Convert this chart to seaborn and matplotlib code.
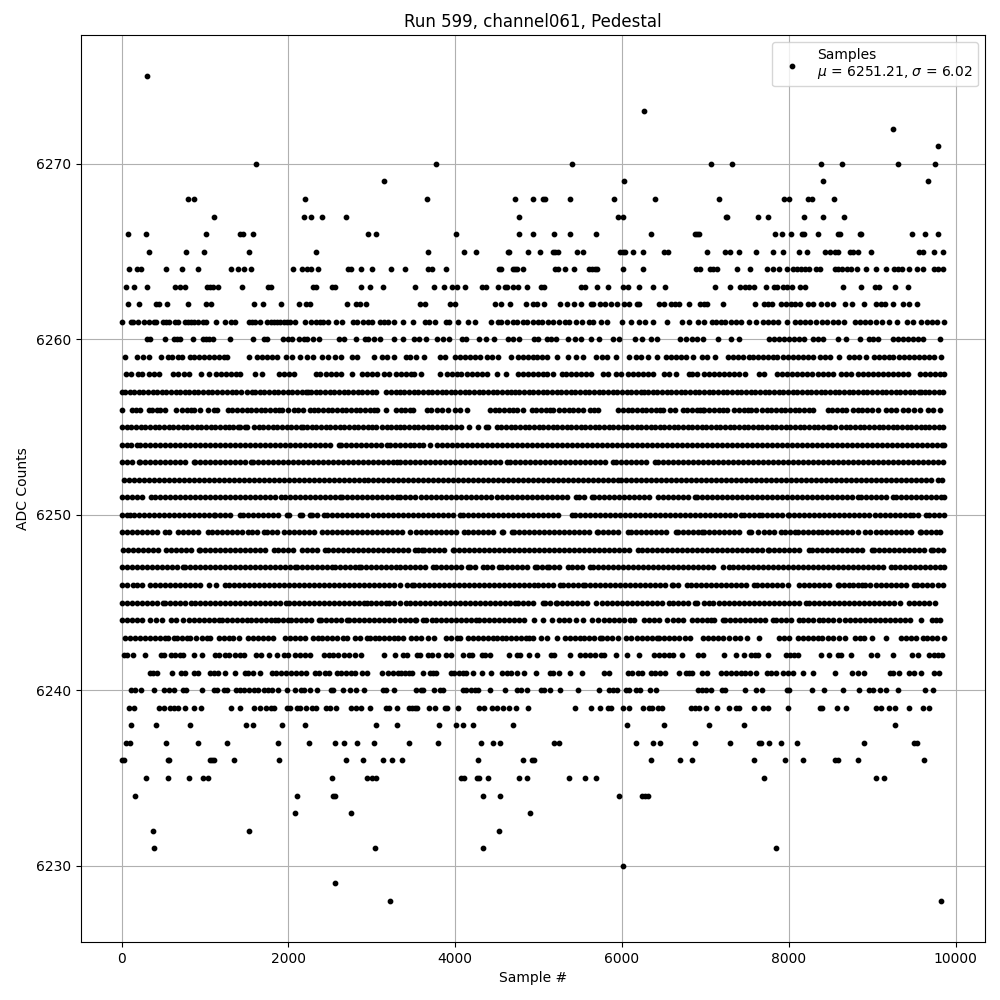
import pandas as pd
import matplotlib
matplotlib.use("Agg")
import matplotlib.pyplot as plt
import seaborn as sns

# Sample numbers, one list per ADC level
s6228 = [3216, 9824]
s6229 = [2556]
s6230 = [6016]
s6231 = [384, 3036, 4336, 7844]
s6232 = [372, 1524, 4528]
s6233 = [2076, 2748, 4900]
s6234 = [156, 2100, 2532, 2556, 4336, 4540, 5968, 6244, 6280, 6316]
s6235 = [288, 552, 804, 972, 1032, 2520, 2940, 3000, 3048, 4072, 4108, 4264, 4288, 4396, 4768, 4864, 5368, 5560, 5692,
         7700, 9044, 9140]
s6236 = [0, 24, 552, 564, 1056, 1080, 1104, 1344, 1884, 2688, 2892, 3132, 3240, 3364, 4276, 4816, 4924, 4948, 6352,
         6700, 6844, 7580, 7952, 8168, 8552, 8588, 8828, 9620]
s6237 = [48, 96, 528, 912, 1260, 1872, 2244, 2556, 2664, 2820, 3024, 3448, 3796, 4312, 4456, 4540, 5188, 5248, 6172,
         6376, 6460, 6880, 7292, 7640, 7664, 7760, 7904, 8096, 8900, 9500, 9536]
s6238 = [108, 408, 816, 1488, 1572, 1920, 2196, 3048, 3300, 3808, 4012, 4096, 4216, 4696, 6064, 6508, 7040, 7460, 9272]
s6239 = [84, 144, 444, 504, 576, 624, 672, 756, 864, 948, 1308, 1416, 1584, 1656, 1728, 1788, 1824, 1980, 2016, 2100,
         2136, 2208, 2280, 2328, 2448, 2496, 2568, 2748, 2808, 2868, 2976, 3168, 3204, 3300, 3448, 3484, 3520, 3544,
         3688, 3760, 3880, 3904, 4036, 4288, 4348, 4444, 4504, 4576, 4648, 4732, 4876, 5440, 5632, 5740, 5836, 5872,
         6016, 6088, 6256, 6328, 6364, 6436, 6484, 6824, 6872, 6920, 7004, 7136, 7280, 7364, 7400, 7580, 7688, 7748,
         7988, 8372, 8396, 8576, 8684, 9044, 9104, 9200, 9272, 9440, 9608, 9680]
s6240 = [108, 156, 228, 384, 504, 564, 624, 732, 768, 960, 1104, 1140, 1224, 1260, 1368, 1416, 1464, 1524, 1584, 1632,
         1704, 1752, 1800, 1872, 1980, 2076, 2148, 2184, 2256, 2340, 2508, 2532, 2652, 2736, 2808, 2904, 3132, 3168,
         3264, 3532, 3592, 3616, 3748, 3820, 3856, 4096, 4132, 4192, 4240, 4276, 4420, 4600, 4744, 4792, 4864, 5032,
         5068, 5140, 5260, 5476, 5728, 5848, 5896, 5944, 6052, 6088, 6172, 6220, 6340, 6412, 6916, 6956, 7004, 7064,
         7196, 7232, 7472, 7604, 7676, 7976, 8000, 8276, 8420, 8648, 8840, 8960, 9008, 9092, 9164, 9308, 9632, 9728]
s6241 = [336, 372, 420, 600, 708, 756, 864, 912, 1056, 1104, 1152, 1236, 1356, 1476, 1512, 1572, 1656, 1800, 1848,
         1908, 1968, 2028, 2088, 2148, 2208, 2316, 2364, 2436, 2484, 2580, 2628, 2688, 2748, 2796, 2880, 2940, 3120,
         3192, 3252, 3312, 3352, 3400, 3448, 3484, 3616, 3700, 3736, 3772, 3952, 3988, 4048, 4096, 4132, 4216, 4324,
         4432, 4564, 4624, 4672, 4744, 4828, 4972, 5140, 5176, 5248, 5380, 5524, 5788, 5848, 6076, 6124, 6196, 6244,
         6352, 6400, 6460, 6520, 6688, 6772, 6808, 6844, 6956, 7016, 7184, 7244, 7304, 7364, 7424, 7472, 7532, 7604,
         7736, 7784, 7844, 7928, 7988, 8048, 8168, 8288, 8552, 8756, 8828, 8900, 9212, 9248, 9320, 9440, 9500, 9584,
         9740, 9800]
s6242 = [24, 60, 132, 276, 468, 504, 588, 636, 696, 732, 864, 960, 1116, 1164, 1236, 1284, 1356, 1416, 1464, 1608,
         1668, 1764, 1860, 1944, 1992, 2076, 2136, 2196, 2256, 2424, 2484, 2532, 2592, 2664, 2724, 2796, 2868, 3144,
         3276, 3376, 3424, 3544, 3580, 3676, 3724, 3796, 3892, 3952, 4096, 4168, 4204, 4324, 4360, 4420, 4648, 4744,
         4780, 4888, 4984, 5152, 5188, 5380, 5500, 5560, 5620, 5680, 5752, 5788, 5932, 6064, 6208, 6388, 6448, 6508,
         6568, 6616, 6724, 6916, 6968, 7220, 7364, 7460, 7544, 7592, 7628, 7748, 7964, 8012, 8060, 8108, 8384, 8480,
         8588, 8624, 8744, 8984, 9056, 9248, 9476, 9548, 9680, 9740, 9788, 9836]
s6243 = [44, 104, 164, 224, 284, 344, 396, 456, 524, 552, 624, 664, 724, 784, 824, 896, 964, 1020, 1064, 1164, 1224,
         1284, 1332, 1404, 1512, 1572, 1632, 1692, 1752, 1816, 1964, 2024, 2084, 2144, 2204, 2292, 2352, 2404, 2464,
         2524, 2584, 2652, 2704, 2804, 2864, 2944, 2984, 3044, 3084, 3144, 3204, 3264, 3312, 3376, 3472, 3532, 3592,
         3676, 3748, 3888, 3948, 4016, 4056, 4156, 4216, 4276, 4336, 4396, 4456, 4496, 4556, 4604, 4664, 4724, 4784,
         4844, 4888, 4936, 5024, 5104, 5224, 5316, 5376, 5436, 5496, 5548, 5608, 5668, 5736, 5764, 5824, 5884, 5956,
         6048, 6108, 6176, 6244, 6304, 6364, 6416, 6448, 6508, 6568, 6628, 6688, 6756, 6816, 6968, 7028, 7088, 7148,
         7208, 7288, 7352, 7412, 7496, 7640, 7880, 7948, 8008, 8108, 8168, 8228, 8288, 8348, 8400, 8468, 8528, 8608,
         8680, 8796, 8856, 8908, 9000, 9160, 9340, 9400, 9460, 9520, 9608, 9656, 9716, 9776, 9860]
s6244 = [0, 60, 120, 180, 240, 344, 416, 484, 592, 652, 732, 804, 864, 924, 984, 1044, 1104, 1164, 1204, 1264, 1324,
         1384, 1444, 1504, 1552, 1612, 1672, 1732, 1792, 1844, 1872, 1932, 1992, 2036, 2096, 2156, 2216, 2276, 2364,
         2396, 2456, 2516, 2576, 2636, 2704, 2724, 2784, 2844, 2904, 2964, 3024, 3084, 3144, 3204, 3264, 3344, 3396,
         3456, 3516, 3536, 3616, 3648, 3716, 3768, 3828, 3888, 3948, 4008, 4068, 4128, 4188, 4248, 4288, 4348, 4408,
         4468, 4528, 4588, 4648, 4708, 4768, 4824, 4948, 5056, 5164, 5248, 5308, 5368, 5448, 5528, 5636, 5716, 5788,
         5848, 5908, 5968, 6028, 6096, 6148, 6268, 6328, 6388, 6448, 6536, 6616, 6676, 6736, 6840, 6904, 6956, 7016,
         7068, 7108, 7208, 7240, 7300, 7360, 7420, 7480, 7540, 7600, 7660, 7720, 7808, 7848, 7908, 7968, 8028, 8128,
         8168, 8228, 8288, 8368, 8408, 8468, 8528, 8600, 8676, 8736, 8796, 8856, 8916, 8976, 9036, 9096, 9156, 9216,
         9276, 9336, 9396, 9448, 9588, 9716, 9760, 9808]
s6245 = [0, 60, 120, 180, 240, 300, 360, 420, 492, 516, 576, 636, 696, 756, 836, 876, 936, 996, 1056, 1116, 1176, 1236,
         1296, 1356, 1416, 1476, 1536, 1596, 1656, 1716, 1776, 1836, 1896, 1972, 2004, 2064, 2124, 2184, 2244, 2304,
         2364, 2424, 2484, 2544, 2604, 2664, 2724, 2784, 2844, 2904, 2944, 2992, 3052, 3112, 3172, 3204, 3264, 3344,
         3416, 3456, 3516, 3576, 3636, 3696, 3756, 3816, 3876, 3936, 3996, 4056, 4116, 4176, 4236, 4296, 4356, 4416,
         4476, 4536, 4596, 4656, 4716, 4756, 4816, 4876, 4936, 5048, 5076, 5136, 5204, 5224, 5284, 5344, 5404, 5464,
         5524, 5584, 5684, 5756, 5816, 5876, 5936, 5996, 6056, 6116, 6176, 6236, 6296, 6356, 6416, 6476, 6568, 6616,
         6676, 6736, 6796, 6876, 6904, 6980, 7040, 7088, 7160, 7220, 7280, 7340, 7400, 7460, 7520, 7580, 7640, 7700,
         7760, 7820, 7880, 7940, 8008, 8060, 8120, 8208, 8240, 8300, 8360, 8420, 8480, 8540, 8600, 8660, 8720, 8780,
         8840, 8900, 8960, 9020, 9080, 9140, 9200, 9260, 9336, 9440, 9500, 9560, 9616, 9680, 9752]
s6246 = [0, 60, 136, 184, 244, 344, 404, 464, 524, 584, 644, 704, 764, 824, 884, 944, 1044, 1132, 1236, 1284, 1344,
         1404, 1464, 1524, 1584, 1644, 1704, 1764, 1824, 1884, 1944, 2004, 2064, 2124, 2184, 2244, 2304, 2364, 2424,
         2484, 2544, 2604, 2664, 2724, 2784, 2844, 2904, 2964, 3024, 3084, 3144, 3204, 3264, 3344, 3420, 3488, 3508,
         3568, 3628, 3688, 3748, 3808, 3868, 3928, 3988, 4048, 4108, 4168, 4228, 4288, 4348, 4408, 4468, 4528, 4588,
         4648, 4708, 4768, 4828, 4888, 4948, 4996, 5056, 5116, 5176, 5256, 5296, 5356, 5416, 5476, 5528, 5556, 5616,
         5676, 5736, 5796, 5856, 5916, 5976, 6036, 6096, 6156, 6216, 6276, 6336, 6396, 6456, 6516, 6596, 6616, 6676,
         6776, 6828, 6888, 6948, 7008, 7068, 7128, 7188, 7248, 7308, 7368, 7428, 7488, 7588, 7620, 7680, 7740, 7800,
         7860, 7920, 7996, 8128, 8188, 8248, 8308, 8368, 8428, 8488, 8588, 8608, 8668, 8720, 8768, 8828, 8880, 8920,
         8980, 9040, 9100, 9160, 9220, 9280, 9340, 9400, 9496, 9536, 9596, 9656, 9716, 9788, 9848]
s6247 = [0, 60, 120, 180, 240, 300, 360, 420, 480, 540, 600, 660, 736, 756, 816, 876, 936, 996, 1056, 1116, 1176, 1236,
         1296, 1356, 1416, 1476, 1536, 1596, 1656, 1716, 1776, 1836, 1896, 1956, 2016, 2076, 2104, 2164, 2224, 2284,
         2344, 2404, 2464, 2524, 2556, 2616, 2676, 2736, 2796, 2844, 2876, 2936, 2996, 3056, 3116, 3176, 3236, 3296,
         3344, 3400, 3460, 3520, 3580, 3640, 3736, 3764, 3824, 3884, 3944, 4004, 4064, 4156, 4176, 4236, 4336, 4376,
         4436, 4524, 4556, 4616, 4676, 4736, 4796, 4856, 4956, 4976, 5036, 5096, 5128, 5188, 5248, 5348, 5404, 5464,
         5524, 5616, 5648, 5708, 5768, 5828, 5888, 5948, 6008, 6068, 6136, 6196, 6256, 6316, 6376, 6436, 6496, 6556,
         6616, 6676, 6736, 6796, 6856, 6916, 6976, 7036, 7096, 7208, 7280, 7328, 7388, 7448, 7508, 7568, 7628, 7688,
         7748, 7808, 7868, 7928, 7988, 8048, 8108, 8168, 8228, 8288, 8348, 8408, 8468, 8528, 8588, 8648, 8708, 8768,
         8828, 8888, 8948, 9008, 9068, 9128, 9228, 9268, 9328, 9388, 9448, 9508, 9568, 9628, 9688, 9748, 9808, 9860]
s6248 = [12, 72, 132, 192, 252, 312, 372, 432, 532, 592, 652, 712, 772, 832, 924, 944, 1004, 1064, 1124, 1184, 1244,
         1304, 1364, 1424, 1484, 1544, 1604, 1664, 1724, 1824, 1872, 1932, 1992, 2052, 2164, 2224, 2284, 2344, 2444,
         2476, 2536, 2596, 2656, 2716, 2776, 2836, 2896, 2956, 3016, 3076, 3136, 3196, 3256, 3316, 3376, 3436, 3516,
         3556, 3596, 3624, 3684, 3744, 3804, 3864, 3968, 3988, 4048, 4108, 4168, 4228, 4288, 4348, 4408, 4468, 4528,
         4588, 4648, 4708, 4768, 4828, 4888, 4948, 5008, 5068, 5128, 5188, 5248, 5308, 5368, 5428, 5488, 5548, 5608,
         5668, 5728, 5788, 5848, 5908, 5968, 6028, 6088, 6196, 6236, 6296, 6356, 6416, 6476, 6536, 6596, 6656, 6716,
         6776, 6836, 6896, 6956, 7016, 7076, 7136, 7196, 7256, 7316, 7376, 7436, 7496, 7556, 7616, 7676, 7748, 7768,
         7828, 7888, 7948, 8008, 8068, 8128, 8240, 8276, 8336, 8396, 8456, 8516, 8576, 8636, 8696, 8756, 8816, 8876,
         8996, 9020, 9080, 9140, 9200, 9260, 9320, 9380, 9440, 9500, 9560, 9620, 9708, 9728, 9788, 9848]
s6249 = [0, 60, 120, 180, 240, 300, 360, 420, 524, 564, 672, 732, 792, 852, 912, 1032, 1084, 1144, 1204, 1264, 1324,
         1384, 1444, 1512, 1564, 1624, 1712, 1744, 1804, 1864, 1952, 2004, 2064, 2124, 2184, 2244, 2304, 2404, 2464,
         2524, 2584, 2644, 2704, 2764, 2824, 2884, 2944, 3004, 3064, 3124, 3184, 3244, 3304, 3364, 3456, 3528, 3584,
         3644, 3704, 3764, 3824, 3884, 3944, 4004, 4104, 4148, 4208, 4268, 4328, 4388, 4448, 4556, 4576, 4676, 4708,
         4768, 4828, 4888, 4948, 5008, 5068, 5128, 5188, 5248, 5308, 5368, 5428, 5488, 5548, 5608, 5696, 5716, 5776,
         5836, 5896, 5956, 6076, 6104, 6164, 6224, 6284, 6344, 6404, 6464, 6524, 6648, 6676, 6736, 6796, 6856, 6916,
         6960, 6980, 7040, 7100, 7160, 7220, 7280, 7340, 7400, 7528, 7552, 7636, 7708, 7768, 7828, 7912, 7956, 8016,
         8080, 8108, 8168, 8228, 8296, 8348, 8400, 8460, 8520, 8580, 8640, 8700, 8760, 8828, 8920, 8980, 9040, 9100,
         9160, 9220, 9280, 9340, 9400, 9460, 9568, 9588, 9648, 9708, 9768, 9816]
s6250 = [0, 60, 104, 144, 204, 264, 324, 384, 444, 504, 564, 624, 684, 744, 804, 864, 924, 984, 1044, 1104, 1124, 1184,
         1244, 1304, 1424, 1456, 1516, 1576, 1636, 1696, 1756, 1816, 1876, 1984, 2012, 2144, 2168, 2256, 2284, 2344,
         2432, 2464, 2524, 2584, 2644, 2704, 2764, 2824, 2884, 2944, 3016, 3076, 3136, 3196, 3256, 3316, 3376, 3436,
         3496, 3556, 3616, 3676, 3736, 3796, 3856, 3916, 3976, 4056, 4096, 4156, 4216, 4276, 4336, 4396, 4456, 4516,
         4576, 4636, 4696, 4756, 4816, 4876, 4936, 4996, 5056, 5116, 5176, 5236, 5396, 5436, 5496, 5556, 5616, 5676,
         5736, 5796, 5856, 5916, 5976, 6036, 6096, 6156, 6216, 6276, 6336, 6396, 6456, 6516, 6576, 6636, 6696, 6756,
         6816, 6876, 6936, 6996, 7056, 7116, 7176, 7236, 7296, 7356, 7428, 7460, 7520, 7580, 7640, 7676, 7736, 7796,
         7856, 7916, 7988, 8008, 8068, 8128, 8188, 8248, 8308, 8368, 8428, 8488, 8548, 8608, 8668, 8728, 8788, 8848,
         8908, 8968, 9028, 9088, 9148, 9208, 9268, 9328, 9388, 9448, 9488, 9548, 9648, 9680, 9740, 9800, 9860]
s6251 = [0, 60, 120, 180, 240, 352, 404, 464, 524, 584, 644, 704, 764, 824, 884, 944, 1004, 1064, 1124, 1184, 1244,
         1304, 1364, 1424, 1484, 1544, 1604, 1664, 1724, 1784, 1844, 1916, 1964, 2024, 2084, 2144, 2204, 2264, 2324,
         2384, 2444, 2504, 2564, 2616, 2644, 2704, 2764, 2824, 2884, 2944, 3004, 3064, 3124, 3184, 3244, 3304, 3344,
         3404, 3464, 3524, 3584, 3644, 3704, 3764, 3824, 3884, 3944, 4004, 4064, 4124, 4184, 4244, 4304, 4364, 4424,
         4496, 4560, 4620, 4680, 4736, 4796, 4856, 4916, 4976, 5036, 5096, 5156, 5216, 5276, 5336, 5448, 5484, 5544,
         5636, 5668, 5728, 5788, 5848, 5908, 5968, 6028, 6088, 6148, 6208, 6268, 6328, 6436, 6488, 6548, 6608, 6668,
         6728, 6788, 6876, 6896, 6956, 7016, 7076, 7136, 7196, 7256, 7316, 7376, 7436, 7496, 7556, 7616, 7676, 7736,
         7796, 7856, 7916, 7976, 8036, 8096, 8156, 8216, 8276, 8336, 8396, 8456, 8516, 8576, 8636, 8696, 8756, 8828,
         8868, 8928, 8988, 9048, 9108, 9168, 9248, 9280, 9340, 9400, 9460, 9520, 9580, 9640, 9700, 9760, 9820, 9860]
s6252 = [32, 92, 152, 212, 272, 332, 392, 452, 512, 572, 632, 692, 752, 812, 872, 932, 992, 1052, 1112, 1172, 1232,
         1292, 1352, 1412, 1472, 1532, 1592, 1652, 1712, 1772, 1832, 1892, 1952, 2012, 2072, 2132, 2192, 2252, 2312,
         2372, 2432, 2492, 2552, 2612, 2672, 2732, 2792, 2852, 2904, 2956, 3016, 3076, 3136, 3196, 3256, 3316, 3376,
         3436, 3496, 3556, 3616, 3676, 3736, 3796, 3856, 3916, 3976, 4036, 4096, 4156, 4216, 4276, 4336, 4396, 4456,
         4516, 4576, 4636, 4696, 4756, 4816, 4876, 4936, 4996, 5056, 5116, 5176, 5236, 5296, 5356, 5416, 5476, 5536,
         5596, 5656, 5716, 5776, 5836, 5896, 5956, 5984, 6044, 6104, 6164, 6224, 6284, 6344, 6404, 6464, 6524, 6584,
         6644, 6704, 6764, 6824, 6884, 6944, 7004, 7064, 7124, 7184, 7244, 7304, 7364, 7424, 7484, 7544, 7604, 7664,
         7724, 7784, 7844, 7904, 7964, 8024, 8084, 8144, 8204, 8264, 8324, 8384, 8444, 8504, 8564, 8624, 8684, 8744,
         8804, 8864, 8924, 8984, 9044, 9104, 9164, 9224, 9284, 9344, 9404, 9464, 9524, 9584, 9644, 9704, 9788, 9840]
s6253 = [0, 60, 120, 204, 224, 284, 344, 404, 464, 524, 584, 644, 704, 764, 864, 884, 944, 1004, 1064, 1124, 1184, 1244,
         1304, 1364, 1424, 1484, 1552, 1576, 1636, 1696, 1756, 1816, 1876, 1936, 1996, 2056, 2116, 2176, 2236, 2296,
         2356, 2416, 2476, 2536, 2596, 2656, 2716, 2776, 2836, 2896, 2956, 3016, 3076, 3136, 3196, 3256, 3304, 3336,
         3396, 3456, 3516, 3576, 3636, 3696, 3756, 3816, 3876, 3936, 3996, 4056, 4116, 4176, 4236, 4296, 4356, 4416,
         4476, 4536, 4624, 4656, 4716, 4776, 4836, 4896, 4956, 5016, 5076, 5136, 5196, 5256, 5316, 5376, 5436, 5496,
         5556, 5616, 5676, 5736, 5796, 5896, 5924, 5984, 6044, 6104, 6164, 6224, 6284, 6396, 6428, 6488, 6548, 6608,
         6668, 6728, 6788, 6848, 6908, 6968, 7028, 7088, 7148, 7208, 7268, 7328, 7388, 7448, 7508, 7568, 7628, 7688,
         7748, 7808, 7868, 7928, 7988, 8048, 8108, 8168, 8228, 8288, 8348, 8408, 8468, 8528, 8588, 8648, 8708, 8768,
         8828, 8888, 8948, 9008, 9068, 9128, 9188, 9248, 9308, 9368, 9428, 9488, 9548, 9608, 9668, 9728, 9788, 9848]
s6254 = [4, 60, 116, 184, 224, 284, 344, 404, 464, 524, 584, 644, 704, 764, 824, 884, 944, 1004, 1064, 1124, 1184, 1244,
         1304, 1364, 1424, 1484, 1544, 1604, 1664, 1720, 1784, 1844, 1904, 1964, 2024, 2084, 2144, 2204, 2264, 2324,
         2384, 2444, 2504, 2604, 2632, 2692, 2752, 2812, 2872, 2932, 2992, 3052, 3112, 3184, 3224, 3280, 3336, 3400,
         3456, 3512, 3568, 3616, 3696, 3776, 3836, 3896, 3956, 4016, 4076, 4136, 4196, 4256, 4316, 4376, 4436, 4496,
         4556, 4616, 4676, 4736, 4796, 4856, 4916, 4976, 5036, 5096, 5156, 5216, 5276, 5336, 5396, 5456, 5516, 5576,
         5636, 5696, 5756, 5816, 5876, 5936, 5996, 6056, 6116, 6176, 6236, 6296, 6356, 6416, 6476, 6536, 6596, 6656,
         6716, 6776, 6836, 6896, 6956, 7016, 7076, 7136, 7196, 7256, 7316, 7376, 7436, 7496, 7556, 7616, 7676, 7736,
         7796, 7856, 7916, 7976, 8036, 8096, 8156, 8216, 8276, 8336, 8396, 8456, 8516, 8576, 8636, 8696, 8756, 8816,
         8876, 8936, 8996, 9056, 9116, 9176, 9236, 9296, 9356, 9416, 9476, 9536, 9596, 9656, 9716, 9776, 9836, 9860]
s6255 = [8, 60, 116, 172, 228, 284, 340, 396, 452, 508, 564, 620, 676, 732, 788, 844, 900, 956, 1012, 1068, 1124, 1180,
         1236, 1292, 1340, 1392, 1424, 1480, 1504, 1584, 1644, 1700, 1756, 1812, 1868, 1924, 1980, 2036, 2092, 2148,
         2176, 2224, 2280, 2336, 2392, 2448, 2504, 2560, 2616, 2672, 2728, 2784, 2840, 2896, 2952, 3000, 3056, 3124,
         3180, 3236, 3292, 3344, 3390, 3446, 3502, 3558, 3614, 3670, 3726, 3782, 3838, 3894, 3950, 4006, 4064, 4168,
         4272, 4372, 4396, 4496, 4552, 4608, 4664, 4720, 4776, 4832, 4888, 4944, 5000, 5056, 5112, 5168, 5224, 5280,
         5336, 5392, 5448, 5504, 5560, 5616, 5672, 5728, 5784, 5840, 5896, 5952, 6008, 6064, 6120, 6176, 6232, 6288,
         6344, 6396, 6452, 6508, 6564, 6620, 6676, 6732, 6788, 6844, 6900, 6956, 7012, 7068, 7124, 7180, 7236, 7292,
         7348, 7404, 7460, 7516, 7572, 7628, 7684, 7740, 7796, 7852, 7908, 7964, 8020, 8076, 8132, 8188, 8244, 8300,
         8356, 8412, 8468, 8490, 8556, 8628, 8684, 8740, 8796, 8852, 8908, 8964, 9020, 9076, 9132, 9188, 9244, 9300,
         9356, 9412, 9468, 9524, 9588, 9628, 9684, 9740, 9796, 9848]
s6256 = [0, 124, 172, 224, 324, 364, 420, 464, 516, 648, 724, 780, 836, 864, 944, 1032, 1104, 1144, 1272, 1320, 1384,
         1444, 1500, 1556, 1612, 1668, 1724, 1780, 1836, 1892, 1924, 1992, 2064, 2120, 2176, 2256, 2304, 2360, 2416,
         2472, 2524, 2584, 2640, 2696, 2752, 2808, 2864, 2920, 2976, 3024, 3060, 3176, 3296, 3348, 3400, 3456, 3500,
         3656, 3712, 3776, 3836, 3916, 4000, 4060, 4136, 4416, 4472, 4528, 4584, 4640, 4696, 4736, 4808, 4916, 4972,
         5028, 5084, 5140, 5176, 5248, 5304, 5360, 5416, 5476, 5528, 5616, 5668, 5716, 5956, 6012, 6068, 6124, 6180,
         6236, 6292, 6348, 6404, 6460, 6496, 6576, 6636, 6728, 6784, 6840, 6896, 6936, 6968, 6988, 7044, 7100, 7168,
         7208, 7264, 7348, 7408, 7464, 7508, 7548, 7608, 7680, 7736, 7792, 7848, 7904, 7960, 8016, 8072, 8128, 8188,
         8240, 8296, 8468, 8524, 8580, 8636, 8692, 8768, 8828, 8884, 8940, 9000, 9068, 9168, 9224, 9280, 9368, 9428,
         9496, 9576, 9668, 9728, 9808]
s6257 = [0, 40, 96, 150, 208, 262, 316, 372, 428, 480, 536, 592, 648, 700, 756, 812, 868, 920, 976, 1032, 1088, 1144,
         1200, 1260, 1320, 1376, 1432, 1500, 1560, 1604, 1656, 1712, 1768, 1824, 1880, 1936, 1992, 2048, 2104, 2160,
         2216, 2240, 2272, 2328, 2384, 2440, 2496, 2552, 2608, 2664, 2720, 2776, 2832, 2888, 2944, 3000, 3056, 3176,
         3232, 3288, 3336, 3390, 3446, 3502, 3558, 3614, 3670, 3726, 3782, 3838, 3894, 3944, 4000, 4056, 4112, 4168,
         4224, 4280, 4336, 4392, 4448, 4504, 4560, 4616, 4672, 4712, 4768, 4824, 4880, 4936, 4992, 5048, 5104, 5160,
         5216, 5272, 5328, 5384, 5440, 5496, 5552, 5608, 5664, 5720, 5776, 5832, 5888, 5944, 6000, 6056, 6112, 6168,
         6224, 6260, 6316, 6368, 6424, 6480, 6536, 6592, 6648, 6704, 6760, 6816, 6872, 6928, 6984, 7040, 7096, 7152,
         7208, 7264, 7320, 7376, 7432, 7488, 7544, 7600, 7656, 7712, 7768, 7824, 7880, 7936, 7992, 8048, 8104, 8160,
         8216, 8272, 8328, 8384, 8440, 8496, 8552, 8608, 8664, 8720, 8776, 8832, 8888, 8944, 9000, 9056, 9112, 9168,
         9224, 9280, 9336, 9392, 9448, 9504, 9560, 9588, 9628, 9684, 9740, 9796, 9852]
s6258 = [48, 108, 192, 244, 324, 384, 444, 612, 672, 744, 804, 948, 1044, 1128, 1188, 1248, 1308, 1368, 1416, 1596,
         1680, 1884, 1944, 2004, 2064, 2328, 2376, 2448, 2508, 2568, 2628, 2760, 2880, 2940, 3000, 3060, 3144, 3204,
         3288, 3352, 3412, 3472, 3508, 3592, 3820, 3904, 3964, 4024, 4072, 4144, 4204, 4264, 4324, 4384, 4504, 4612,
         4756, 4816, 4876, 4936, 4996, 5056, 5104, 5176, 5284, 5332, 5392, 5452, 5512, 5572, 5632, 5776, 5836, 5932,
         5992, 6076, 6136, 6196, 6256, 6316, 6376, 6508, 6568, 6652, 6808, 6836, 6896, 6980, 7040, 7100, 7160, 7220,
         7280, 7340, 7400, 7472, 7640, 7708, 7856, 7916, 7976, 8036, 8096, 8156, 8216, 8276, 8348, 8408, 8468, 8528,
         8624, 8684, 8744, 8828, 8888, 8948, 9008, 9068, 9128, 9188, 9248, 9308, 9368, 9428, 9572, 9632, 9692, 9752,
         9812, 9860]
s6259 = [36, 180, 252, 324, 468, 552, 600, 672, 724, 816, 864, 924, 984, 1044, 1104, 1164, 1224, 1264, 1524, 1620, 1680,
         1740, 1800, 1860, 1968, 2040, 2136, 2220, 2292, 2400, 2472, 2556, 2628, 2760, 2820, 3024, 3120, 3180, 3264,
         3412, 3460, 3532, 3628, 3820, 3880, 4000, 4060, 4120, 4180, 4240, 4300, 4384, 4444, 4516, 4672, 4756, 4816,
         4876, 4936, 4984, 5044, 5104, 5224, 5356, 5452, 5536, 5692, 5764, 5824, 5932, 6088, 6172, 6232, 6316, 6424,
         6532, 6592, 6652, 6712, 6772, 6856, 6956, 7016, 7112, 7268, 7328, 7388, 7448, 7520, 7568, 7628, 7688, 7748,
         7808, 7856, 7928, 7988, 8048, 8108, 8168, 8228, 8288, 8372, 8432, 8492, 8608, 8720, 8780, 8840, 8924, 9020,
         9080, 9140, 9200, 9248, 9320, 9380, 9440, 9500, 9560, 9620, 9680, 9740, 9824]
s6260 = [300, 340, 516, 624, 660, 704, 852, 972, 1012, 1044, 1096, 1296, 1572, 1704, 1744, 1932, 1992, 2044, 2124, 2184,
         2224, 2300, 2364, 2604, 2664, 2808, 2916, 2960, 3024, 3096, 3264, 3376, 3508, 3568, 3652, 3784, 3856, 3928,
         4084, 4132, 4288, 4372, 4468, 4636, 4696, 4768, 4948, 4996, 5096, 5152, 5212, 5356, 5436, 5512, 5632, 5728,
         5896, 5968, 6160, 6244, 6352, 6424, 6700, 6772, 6844, 6904, 6968, 7148, 7304, 7400, 7768, 7828, 7888, 7948,
         8008, 8068, 8128, 8188, 8288, 8348, 8408, 8596, 8684, 8852, 8960, 9008, 9068, 9248, 9308, 9368, 9428, 9488,
         9548, 9608, 9816]
s6261 = [0, 108, 132, 192, 264, 324, 384, 408, 492, 528, 564, 636, 672, 756, 792, 828, 864, 912, 972, 1008, 1128, 1236,
         1308, 1356, 1524, 1560, 1596, 1656, 1744, 1788, 1824, 1864, 1904, 1944, 1984, 2024, 2076, 2196, 2268, 2328,
         2376, 2412, 2472, 2568, 2640, 2772, 2820, 2892, 2952, 3000, 3096, 3144, 3192, 3264, 3376, 3496, 3640, 3688,
         3760, 3892, 3928, 4036, 4156, 4240, 4432, 4516, 4552, 4624, 4696, 4744, 4816, 4856, 4936, 4996, 5044, 5116,
         5176, 5248, 5320, 5368, 5452, 5520, 5608, 5656, 5752, 5816, 6004, 6112, 6208, 6280, 6376, 6544, 6724, 6808,
         6916, 6980, 7076, 7124, 7184, 7232, 7304, 7364, 7424, 7520, 7604, 7688, 7748, 7808, 7868, 7976, 8072, 8132,
         8192, 8252, 8324, 8396, 8456, 8528, 8588, 8660, 8792, 8852, 8912, 8972, 9044, 9116, 9200, 9296, 9416, 9488,
         9584, 9656, 9716, 9776, 9860]
s6262 = [72, 204, 408, 444, 540, 792, 1008, 1068, 1584, 1692, 1908, 2124, 2208, 2256, 2700, 2808, 2856, 2928, 3580,
         3640, 3940, 4000, 4480, 4552, 4660, 4852, 4936, 4984, 5068, 5260, 5344, 5428, 5512, 5632, 5656, 5740, 5800,
         5872, 5944, 6028, 6088, 6184, 6208, 6448, 6508, 6592, 6640, 6688, 6808, 6932, 6980, 7016, 7208, 7592, 7700,
         7748, 7796, 7904, 7964, 8024, 8072, 8132, 8228, 8288, 8384, 8456, 8528, 8672, 8756, 8900, 9044, 9104, 9152,
         9248, 9368, 9440, 9536]
s6263 = [48, 144, 300, 636, 696, 756, 1020, 1056, 1092, 1152, 1440, 1752, 1788, 2292, 2328, 2520, 2556, 2868, 2976,
         3132, 3520, 3748, 3868, 3964, 4024, 4120, 4324, 4372, 4516, 4600, 4624, 4692, 4756, 4864, 5032, 5068, 5512,
         5560, 5704, 5836, 6016, 6076, 6208, 6376, 6520, 7112, 7292, 7412, 7472, 7520, 7580, 7724, 7820, 7856, 7928,
         7976, 8036, 8132, 8192, 8648, 8864, 9032, 9080, 9272, 9428]
s6264 = [84, 180, 228, 528, 720, 912, 1308, 1392, 1464, 1548, 2052, 2160, 2220, 2268, 2352, 2712, 2748, 2868, 3000,
         3228, 3400, 3676, 3724, 3892, 4528, 4552, 4696, 4720, 4744, 4816, 5200, 5236, 5320, 5428, 5608, 5644, 5680,
         5704, 6016, 6256, 6884, 6932, 7052, 7088, 7136, 7376, 7532, 7736, 7808, 7880, 7976, 8048, 8096, 8144, 8192,
         8240, 8324, 8372, 8552, 8588, 8636, 8696, 8744, 8816, 8924, 9044, 9164, 9260, 9308, 9356, 9440, 9536, 9608,
         9740, 9788, 9848]
s6265 = [324, 768, 984, 1524, 2328, 3676, 4108, 4252, 4636, 4648, 4876, 5020, 5176, 5200, 5236, 5464, 5536, 5980, 6016,
         6040, 6136, 6256, 6508, 6556, 7016, 7232, 7292, 7400, 7604, 7808, 7928, 8120, 8216, 8432, 8492, 8552, 8588,
         8732, 8768, 8828, 8984, 9560, 9608, 9740, 9848]
s6266 = [72, 288, 1008, 1416, 1452, 1572, 2952, 3048, 4012, 4768, 4936, 5188, 5380, 5692, 6352, 6880, 6904, 6920, 7832,
         7916, 8024, 8156, 8180, 8348, 8588, 8612, 8852, 8864, 9476, 9632, 9788]
s6267 = [1104, 2184, 2268, 2400, 2688, 4768, 5956, 6016, 7244, 7256, 7628, 7748, 8180, 8408, 8660]
s6268 = [792, 864, 2196, 3664, 4720, 4936, 5056, 5080, 5380, 5908, 6400, 7160, 7940, 8000, 8228, 8276, 8540]
s6269 = [3144, 6028, 8408, 9668]
s6270 = [1608, 3772, 5404, 7064, 7316, 8384, 8636, 9308, 9752]
s6271 = [9788]
s6272 = [9248]
s6273 = [6268]
s6275 = [300]

levels = {6228: s6228, 6229: s6229, 6230: s6230, 6231: s6231, 6232: s6232, 6233: s6233, 6234: s6234, 6235: s6235,
          6236: s6236, 6237: s6237, 6238: s6238, 6239: s6239, 6240: s6240, 6241: s6241, 6242: s6242, 6243: s6243,
          6244: s6244, 6245: s6245, 6246: s6246, 6247: s6247, 6248: s6248, 6249: s6249, 6250: s6250, 6251: s6251,
          6252: s6252, 6253: s6253, 6254: s6254, 6255: s6255, 6256: s6256, 6257: s6257, 6258: s6258, 6259: s6259,
          6260: s6260, 6261: s6261, 6262: s6262, 6263: s6263, 6264: s6264, 6265: s6265, 6266: s6266, 6267: s6267,
          6268: s6268, 6269: s6269, 6270: s6270, 6271: s6271, 6272: s6272, 6273: s6273, 6275: s6275}

mean_adc = 6251.21
std_adc = 6.02

rows = [(s, adc) for adc, samples in levels.items() for s in samples]
df = pd.DataFrame(rows, columns=["sample", "adc"])

fig, ax = plt.subplots(figsize=(10, 10))
label = "Samples\n$\\mu$ = %.2f, $\\sigma$ = %.2f" % (mean_adc, std_adc)
sns.scatterplot(data=df, x="sample", y="adc", marker=".", s=36, color="black", edgecolor="black", linewidth=1.15,
                label=label, ax=ax, zorder=3)
ax.set_title("Run 599, channel061, Pedestal")
ax.set_xlabel("Sample #")
ax.set_ylabel("ADC Counts")
ax.ticklabel_format(useOffset=False, style="plain", axis="y")
ax.grid(True)
ax.legend(loc="upper right")
fig.subplots_adjust(left=0.0805, right=0.985, top=0.965, bottom=0.058)
plt.savefig("out.png", dpi=100)
